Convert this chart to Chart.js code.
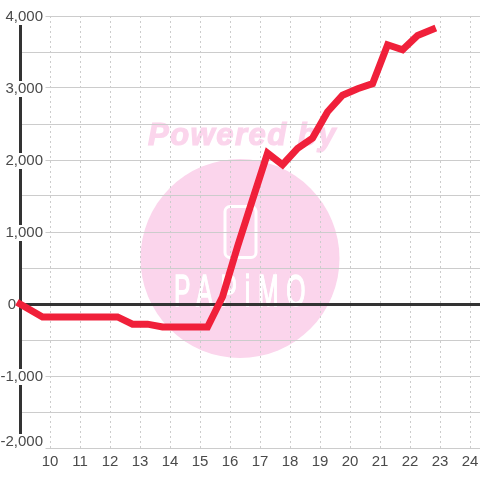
<!DOCTYPE html>
<html>
<head>
<meta charset="utf-8">
<style>
  html, body { margin: 0; padding: 0; background: #fff; }
  canvas { display: block; }
</style>
<script src="https://cdn.jsdelivr.net/npm/chart.js@4"></script>
</head>
<body>
<canvas id="chart" width="480" height="480"></canvas>
<script>
const hours = [9, 9.75, 10.25, 10.75, 11.25, 11.75, 12.25, 12.75, 13.25, 13.75, 14.25, 14.75, 15.25, 15.75,
  16.25, 16.75, 17.25, 17.75, 18.25, 18.75, 19.25, 19.75, 20.25, 20.75, 21.25, 21.75, 22.25, 22.75];
const profit = [0, -180, -180, -180, -180, -180, -180, -280, -280, -320, -320, -320, -320, 100,
  800, 1450, 2095, 1935, 2160, 2305, 2670, 2900, 2990, 3060, 3600, 3530, 3730, 3815];
const hourTicks = [10, 11, 12, 13, 14, 15, 16, 17, 18, 19, 20, 21, 22, 23, 24];
const profitTicks = [4000, 3000, 2000, 1000, 0, -1000, -2000];

// watermark sits under the grid
const watermark = {
  id: 'watermark',
  beforeDraw(chart) {
    const c = chart.ctx;
    c.save();
    c.fillStyle = '#fff';
    c.fillRect(0, 0, chart.width, chart.height);
    c.fillStyle = '#fbd5ec';
    c.strokeStyle = '#fbd5ec';
    c.beginPath();
    c.arc(240, 258.5, 99.5, 0, Math.PI * 2);
    c.fill();
    c.font = 'italic bold 31px "Liberation Sans"';
    c.letterSpacing = '1.5px';
    c.textAlign = 'left';
    c.lineWidth = 1.2;
    c.fillText('Powered by', 148, 145);
    c.strokeText('Powered by', 148, 145);
    c.strokeStyle = '#fff';
    c.lineWidth = 3;
    c.beginPath();
    c.roundRect(225, 206.5, 31, 51, 5);
    c.stroke();
    c.fillStyle = '#fff';
    c.translate(174, 306);
    c.scale(0.55, 1);
    c.font = '45px "Liberation Sans"';
    c.letterSpacing = '14px';
    c.lineWidth = 1.5;
    c.fillText('PAPiMO', 0, 0);
    c.strokeText('PAPiMO', 0, 0);
    c.restore();
  }
};

// y labels sit inside the plot with a white patch behind them, "0" and the last one are offset
const yLabels = {
  id: 'yLabels',
  beforeDatasetsDraw(chart) {
    const c = chart.ctx;
    const y = chart.scales.y;
    c.save();
    c.font = '15px "Liberation Sans"';
    c.textBaseline = 'middle';
    c.textAlign = 'right';
    profitTicks.forEach(v => {
      const label = v.toLocaleString('en-US');
      const py = y.getPixelForValue(v) + (v === -2000 ? -6 : 1);
      const right = v === 0 ? 16 : 43;
      if (v !== 0) {
        c.fillStyle = '#fff';
        c.fillRect(0, py - 8, 45.5, v === -2000 ? 20 : 16);
      }
      c.fillStyle = '#4a4a4a';
      c.fillText(label, right, py);
    });
    c.restore();
  }
};

const ctx = document.getElementById('chart').getContext('2d');
const myChart = new Chart(ctx, {
  type: 'line',
  data: {
    datasets: [{
      data: hours.map((h, i) => ({ x: h, y: profit[i] })),
      borderColor: '#f0203a',
      borderWidth: 7,
      borderCapStyle: 'square',
      borderJoinStyle: 'miter',
      pointRadius: 0,
      tension: 0,
      clip: false
    }]
  },
  options: {
    responsive: false,
    animation: false,
    layout: { padding: { top: 16 } },
    plugins: { legend: { display: false }, tooltip: { enabled: false } },
    scales: {
      x: {
        type: 'linear',
        min: 9,
        max: 24.33,
        afterBuildTicks: s => { s.ticks = hourTicks.map(v => ({ value: v })); },
        afterFit: s => { s.height = 32; s.paddingRight = 0; s.paddingLeft = 0; },
        grid: { color: '#ccc', lineWidth: 1, drawTicks: false },
        border: { display: false, dash: [2, 3] },
        ticks: {
          color: '#4a4a4a', padding: 5, maxRotation: 0, autoSkip: false,
          font: { family: '"Liberation Sans"', size: 15 }
        }
      },
      y: {
        min: -2000,
        max: 4000,
        afterFit: s => { s.width = 20; s.paddingTop = 0; s.paddingBottom = 0; },
        grid: {
          drawTicks: false,
          color: c => c.tick.value === 0 ? '#333' : '#ccc',
          lineWidth: c => c.tick.value === 0 ? 3 : 1
        },
        border: { color: '#333', width: 3 },
        ticks: { stepSize: 500, display: false }
      }
    }
  },
  plugins: [watermark, yLabels]
});
</script>
</body>
</html>
